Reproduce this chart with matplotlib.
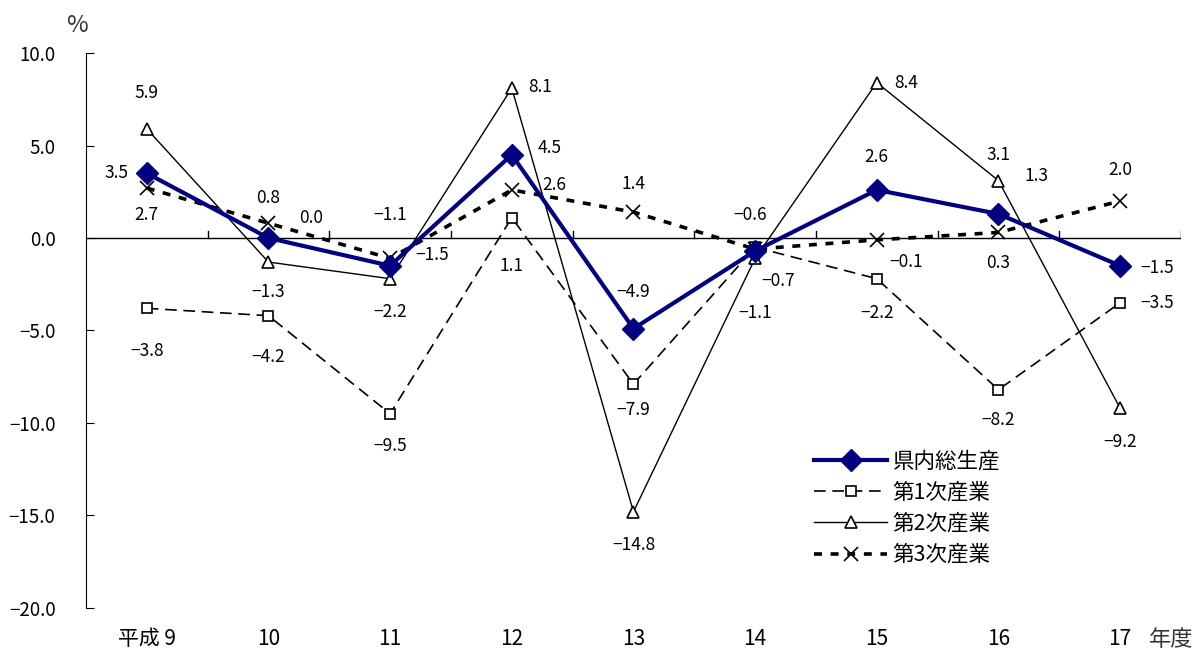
import matplotlib
matplotlib.use('Agg')
import matplotlib.pyplot as plt

plt.rcParams['font.family'] = ['Noto Sans CJK JP', 'DejaVu Sans']
plt.rcParams['font.size'] = 12.5

# data
years = ['平成 9', '10', '11', '12', '13', '14', '15', '16', '17']
total = [3.5, 0.0, -1.5, 4.5, -4.9, -0.7, 2.6, 1.3, -1.5]
primary = [-3.8, -4.2, -9.5, 1.1, -7.9, -0.5, -2.2, -8.2, -3.5]
secondary = [5.9, -1.3, -2.2, 8.1, -14.8, -1.1, 8.4, 3.1, -9.2]
tertiary = [2.7, 0.8, -1.1, 2.6, 1.4, -0.6, -0.1, 0.3, 2.0]
names = ['県内総生産', '第1次産業', '第2次産業', '第3次産業']

# label offsets in pixels (None = no label)
off_total = [(-30, 0), (43, 20), (42, 11), (38, 7), (0, 37), (23, -30), (0, 33), (38, 38), (37, -2)]
off_primary = [(0, -43), (0, -41), (0, -32), (0, -48), (0, -26), None, (0, -34), (0, -30), (37, 0)]
off_secondary = [(0, 36), (0, -30), (0, -33), (28, 1), (0, -33), (0, -55), (29, 0), (0, 26), (0, -34)]
off_tertiary = [(0, -27), (0, 25), (0, 43), (43, 5), (0, 28), (-5, 34), (29, -22), (0, -31), (0, 31)]

fig = plt.figure(figsize=(11.97, 6.52), dpi=100)
ax = fig.add_axes([0.0718, 0.0675, 0.9148, 0.8512])

x = list(range(len(years)))
ax.axhline(0, color='black', lw=1.0, zorder=1)

ax.plot(x, primary, color='black', lw=1.2, dashes=(7, 4), marker='s', ms=7,
        mfc='white', mec='black', mew=1.2, label=names[1], zorder=3)
ax.plot(x, secondary, color='black', lw=1.0, marker='^', ms=9,
        mfc='white', mec='black', mew=1.2, label=names[2], zorder=3)
ax.plot(x, tertiary, color='black', lw=2.6, dashes=(2.2, 2.4), marker='x', ms=10,
        mec='black', mew=1.2, label=names[3], zorder=4)
ax.plot(x, total, color='#000080', lw=3, marker='D', ms=11,
        mfc='#000080', mec='#000080', label=names[0], zorder=5)

for vals, offs in [(total, off_total), (primary, off_primary),
                   (secondary, off_secondary), (tertiary, off_tertiary)]:
    for i, (v, o) in enumerate(zip(vals, offs)):
        if o is None:
            continue
        txt = f'{v:.1f}'.replace('-', '−')
        ax.annotate(txt, (i, v), xytext=o, textcoords='offset pixels',
                    ha='center', va='center', fontsize=12.5)

ax.set_xlim(-0.5, len(years) - 0.5)
ax.set_ylim(-20, 10)
ax.set_yticks([10, 5, 0, -5, -10, -15, -20])
ax.set_yticklabels([f'{t:.1f}'.replace('-', '−') for t in [10, 5, 0, -5, -10, -15, -20]],
                   fontsize=13.5)
ax.tick_params(axis='y', direction='in', length=6, pad=22)
ax.set_xticks([])

for s in ['top', 'right', 'bottom']:
    ax.spines[s].set_visible(False)

# boundary ticks on the zero line
for b in range(1, len(years) + 1):
    ax.plot([b - 0.5, b - 0.5], [0, 0.4], color='black', lw=1.0, zorder=1)

# category labels under the plot
for i, lab in enumerate(years):
    ax.text(i, -21.7, lab, ha='center', va='center', fontsize=15)
ax.text(8.42, -21.7, '年度', ha='center', va='center', fontsize=16, color='#333333')
ax.text(-0.57, 11.5, '%', ha='center', va='center', fontsize=17, color='#333333')

handles, labels = ax.get_legend_handles_labels()
order = [3, 0, 1, 2]
ax.legend([handles[k] for k in order], [labels[k] for k in order],
          loc='upper left', bbox_to_anchor=(0.665, 0.283), frameon=False,
          fontsize=15.5, handlelength=3.4, labelspacing=0.42, handletextpad=0.25,
          borderpad=0.0, borderaxespad=0.0)

fig.savefig('out.png', dpi=100)
